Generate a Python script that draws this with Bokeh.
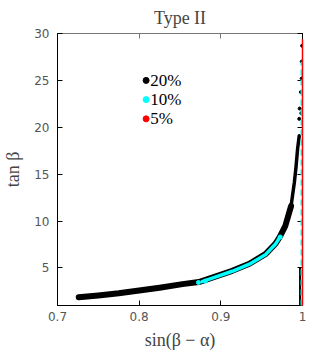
from bokeh.plotting import figure
from bokeh.models import LinearAxis, FixedTicker, Range1d, Label
from bokeh.embed import file_html
from bokeh.resources import INLINE

# ---- data ----
x_ticks = [0.7, 0.8, 0.9, 1.0]
x_tick_labels = ["0.7", "0.8", "0.9", "1"]
y_ticks = [5, 10, 15, 20, 25, 30]

# 20% band (black), centre line of the band
x20 = [0.726, 0.75, 0.775, 0.8, 0.825, 0.853, 0.873, 0.894, 0.914, 0.935, 0.955, 0.967, 0.972, 0.979, 0.986, 0.990, 0.992, 0.994, 0.996]
y20 = [1.89, 2.07, 2.3, 2.6, 2.9, 3.28, 3.5, 4.1, 4.7, 5.45, 6.5, 7.6, 8.3, 9.5, 11.6, 14.1, 15.7, 17.7, 19.1]
# scattered 20% points near sin(b-a)=1
x20s = [0.996, 0.9965, 0.998, 0.999, 0.999, 0.9995, 0.9985]
y20s = [20.9, 22.0, 23.75, 25.2, 27.0, 28.7, 21.5]
# 10% band (cyan)
x10 = [0.877, 0.894, 0.914, 0.935, 0.955, 0.967, 0.972]
y10 = [3.55, 4.05, 4.65, 5.4, 6.45, 7.55, 8.25]
x10s = [0.8726, 0.881, 0.9727]
y10s = [3.45, 3.6, 8.3]
# vertical strips at sin(b-a) ~ 1
x_vert5 = [1.0, 1.0]
y_vert5 = [1.0, 29.4]
x_vert10 = [0.9988, 0.9988]
y_vert10 = [1.0, 27.0]
x_vert20 = [0.997, 0.997]
y_vert20 = [1.0, 5.0]

legend_labels = ["20%", "10%", "5%"]
legend_colors = ["black", "cyan", "red"]
legend_y = [25.0, 22.95, 20.9]

serif = "Liberation Serif"
sans = "DejaVu Sans"

p = figure(frame_width=245, frame_height=272, output_backend="svg", toolbar_location=None,
           x_range=Range1d(0.7, 1.0), y_range=Range1d(1, 30),
           min_border_left=47, min_border_top=26, min_border_right=6, min_border_bottom=40,
           background_fill_color="white", border_fill_color="white")

p.title.text = "Type II"
p.title.align = "center"
p.title.text_font = serif
p.title.text_font_size = "18px"
p.title.text_font_style = "normal"
p.title.standoff = 11
p.grid.visible = False
p.outline_line_color = "black"

for ax in [p.xaxis[0], p.yaxis[0]]:
    ax.major_tick_in = 5
    ax.major_tick_out = 0
    ax.minor_tick_line_color = None
    ax.major_label_text_font = sans
    ax.major_label_text_font_size = "12px"
    ax.major_label_text_color = "#555555"
    ax.axis_label_text_font = serif
    ax.axis_label_text_font_size = "18px"
    ax.axis_label_text_font_style = "normal"
    ax.axis_line_color = "black"

p.xaxis.ticker = FixedTicker(ticks=x_ticks)
p.xaxis.major_label_overrides = dict(zip(x_ticks, x_tick_labels))
p.yaxis.ticker = FixedTicker(ticks=y_ticks)
p.xaxis.axis_label = "sin(β − α)"
p.yaxis.axis_label = "tan β"
p.xaxis.major_label_standoff = 6
p.yaxis.major_label_standoff = 8
p.xaxis.axis_label_standoff = 6
p.yaxis.axis_label_standoff = 8

top = LinearAxis(ticker=FixedTicker(ticks=x_ticks), major_tick_in=5, major_tick_out=0,
                 minor_tick_line_color=None,
                 major_label_overrides={t: "" for t in x_ticks},
                 axis_line_color="#777777", major_tick_line_color="#777777")
right = LinearAxis(ticker=FixedTicker(ticks=y_ticks), major_tick_in=5, major_tick_out=0,
                   minor_tick_line_color=None,
                   major_label_overrides={t: "" for t in y_ticks},
                   axis_line_color="black")
p.add_layout(top, "above")
p.add_layout(right, "right")

# bands: thick lower part, thinner steep upper part
k = 14
p.line(x20[:k + 1], y20[:k + 1], line_color="black", line_width=6, line_cap="round", line_join="round")
p.line(x20[k:], y20[k:], line_color="black", line_width=3.5, line_cap="round", line_join="round")
p.scatter(x20s, y20s, size=3, color="black")
p.line(x_vert20, y_vert20, line_color="black", line_width=2)
p.line(x10, y10, line_color="cyan", line_width=3.5, line_cap="round", line_join="round")
p.scatter(x10s, y10s, size=4, color="cyan")
p.line(x_vert10, y_vert10, line_color="cyan", line_width=2, line_dash="6 4", level="overlay")
p.line(x_vert5, y_vert5, line_color="red", line_width=1.5, level="overlay")

# legend
xl = 0.8085
p.scatter([xl] * 3, legend_y, size=6, color=legend_colors)
for lab, yy in zip(legend_labels, legend_y):
    p.add_layout(Label(x=xl + 0.005, y=yy, text=lab, text_font=serif, text_font_size="17px",
                       text_baseline="middle", text_color="black"))

open("out.html", "w").write(file_html(p, INLINE))
